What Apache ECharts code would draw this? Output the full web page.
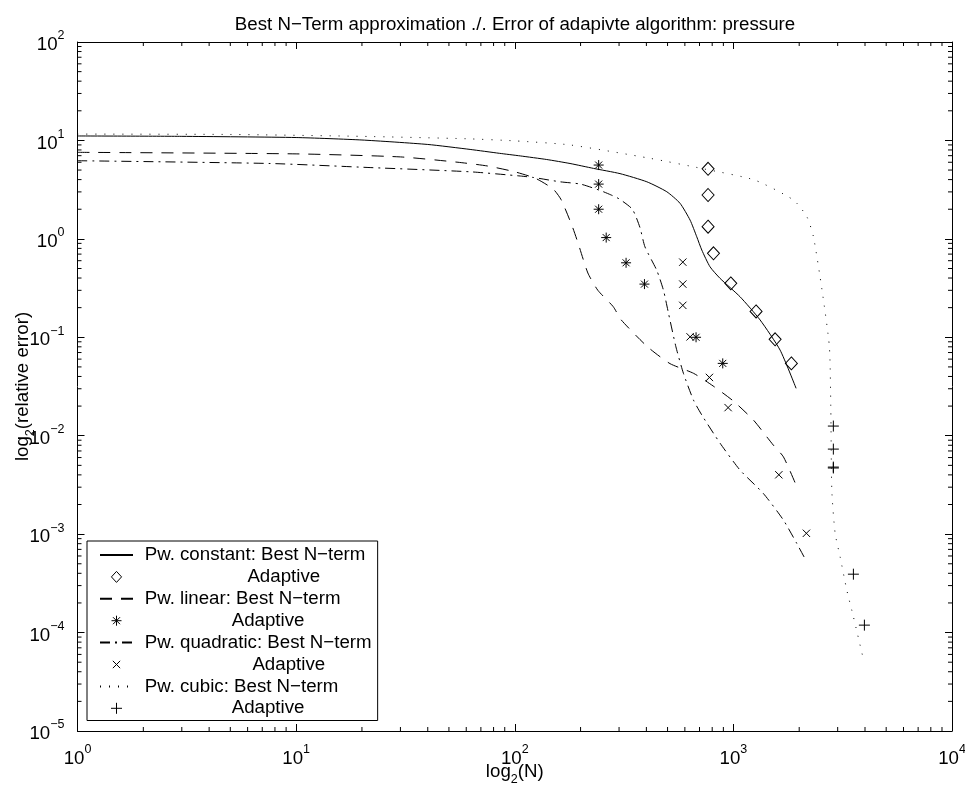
<!DOCTYPE html>
<html>
<head>
<meta charset="utf-8">
<title>Best N-Term approximation</title>
<script src="https://cdn.jsdelivr.net/npm/echarts@6/dist/echarts.min.js"></script>
<style>
  html, body { margin: 0; padding: 0; background: #fff; }
  #chart { width: 965px; height: 788px; }
</style>
</head>
<body>
<div id="chart"></div>
<script>
// Pw. constant: best N-term
const constN   = [1, 3, 10, 20, 40, 62.5, 85, 106, 140, 179, 229, 303, 402, 496, 570, 634, 680, 717, 782, 869, 1073, 1325, 1636, 1936];
const constErr = [11.1, 11.0, 10.7, 10.1, 9.1, 8.1, 7.4, 6.96, 6.4, 5.83, 5.2, 4.6, 3.8, 3.01, 2.30, 1.55, 1.05, 0.77, 0.52, 0.397, 0.258, 0.15, 0.0741, 0.0303];
// Pw. constant: adaptive
const constAdN   = [766, 766, 766, 811, 973, 1270, 1552, 1842];
const constAdErr = [5.15, 2.79, 1.33, 0.713, 0.353, 0.183, 0.0953, 0.0543];

// Pw. linear: best N-term
const linN   = [1, 10, 30, 55, 75, 100, 125, 150, 163, 183, 195, 216, 240, 282, 307, 405, 513, 658, 808, 1000, 1236, 1424, 1525, 1694, 1930];
const linErr = [7.57, 7.3, 6.8, 6.0, 5.5, 4.8, 4.1, 3.2, 2.5, 1.35, 0.9, 0.45, 0.30, 0.205, 0.15, 0.08, 0.054, 0.043, 0.032, 0.0225, 0.0144, 0.0097, 0.0080, 0.0061, 0.0032];
// Pw. linear: adaptive
const linAdN   = [242, 242, 242, 262, 323, 392, 675, 894];
const linAdErr = [5.62, 3.6, 2.0, 1.03, 0.571, 0.347, 0.100, 0.0543];

// Pw. quadratic: best N-term
const quadN   = [1, 7.6, 21.8, 62.5, 106, 122, 161, 200, 246, 275, 300, 345, 374, 394, 446, 479, 505, 546, 591, 657, 720, 869, 1073, 1371, 1694, 1950, 2144];
const quadErr = [6.22, 5.83, 5.3, 4.8, 4.35, 4.2, 3.8, 3.6, 3.1, 2.8, 2.55, 2.0, 1.3, 0.83, 0.48, 0.30, 0.175, 0.080, 0.043, 0.023, 0.016, 0.0084, 0.00447, 0.00259, 0.00139, 0.000804, 0.000545];
// Pw. quadratic: adaptive
const quadAdN   = [587, 587, 587, 634, 777, 946, 1614, 2158];
const quadAdErr = [0.58, 0.347, 0.211, 0.101, 0.0391, 0.0193, 0.00401, 0.00102];

// Pw. cubic: best N-term
const cubN   = [1, 5, 20, 60, 100, 179, 416, 729, 1250, 1883, 2168, 2324, 2545, 2749, 2790, 2820, 2920, 3078, 3302, 3540, 3910];
const cubErr = [11.6, 11.5, 11.0, 10.4, 9.9, 9.0, 6.58, 5.15, 3.96, 2.48, 1.68, 1.05, 0.30, 0.080, 0.0197, 0.0028, 0.00102, 0.000588, 0.00027, 0.000145, 0.0000566];
// Pw. cubic: adaptive
const cubAdN   = [2866, 2866, 2866, 2866, 3540, 3975];
const cubAdErr = [0.01253, 0.00731, 0.0048, 0.0047, 0.000392, 0.000119];

// axes
const X_MIN = 1, X_MAX = 10000;
const Y_MIN = 1e-5, Y_MAX = 100;
const mantissas = [2, 3, 4, 5, 6, 7, 8, 9];
const xDecades = [1, 10, 100, 1000];
const yDecades = [1e-5, 1e-4, 1e-3, 1e-2, 1e-1, 1, 10];

const legendNames = ['const', 'constAd', 'lin', 'linAd', 'quad', 'quadAd', 'cub', 'cubAd'];
const legendLabels = {
  const:  '{n|Pw. constant: Best N\u2212term}',
  constAd: '{a1|Adaptive}',
  lin:    '{n|Pw. linear: Best N\u2212term}',
  linAd:  '{a2|Adaptive}',
  quad:   '{n|Pw. quadratic: Best N\u2212term}',
  quadAd: '{a3|Adaptive}',
  cub:    '{n|Pw. cubic: Best N\u2212term}',
  cubAd:  '{a2|Adaptive}'
};

const FONT = '"Liberation Sans", Arial, Helvetica, sans-serif';
const FS = 18.7;

const DIAMOND = 'path://M6,0L12,6.5L6,13L0,6.5Z';
const STAR = 'path://M0,0M11,11M0.5,5.5L10.5,5.5M5.5,0.5L5.5,10.5M2,2L9,9M2,9L9,2';
const CROSS = 'path://M0,0M12,12M2,2L10,10M2,10L10,2';
const PLUS = 'path://M0,5L10,5M5,0L5,10';

function pairs(xs, ys) {
  return xs.map((x, i) => [x, ys[i]]);
}

function powLabel(v) {
  const e = Math.round(Math.log10(v));
  return '{b|10}{s|' + (e < 0 ? '\u2212' + (-e) : e) + '}';
}

const powRich = {
  b: { fontSize: FS, fontFamily: FONT, color: '#000', verticalAlign: 'bottom', padding: [6, 0, 0, 0] },
  s: { fontSize: 12.5, fontFamily: FONT, color: '#000', verticalAlign: 'top' }
};

const subRich = {
  m: { fontSize: FS, fontFamily: FONT, color: '#000', verticalAlign: 'top' },
  sub: { fontSize: 12.5, fontFamily: FONT, color: '#000', verticalAlign: 'top', padding: [11, 0, 0, 0] }
};

function logAxis(min, max, pos, showLabel) {
  return {
    type: 'log',
    logBase: 10,
    min: min,
    max: max,
    interval: 1,
    position: pos,
    axisLine: { show: true, onZero: false, lineStyle: { color: '#000', width: 1 } },
    axisTick: { show: true, inside: true, length: 7, lineStyle: { color: '#000', width: 1 } },
    minorTick: { show: false },
    splitLine: { show: false },
    axisLabel: {
      show: showLabel,
      margin: 12,
      formatter: powLabel,
      rich: powRich
    }
  };
}

const xBottom = logAxis(X_MIN, X_MAX, 'bottom', true);
xBottom.name = '{m|log}{sub|2}{m|(N)}';
xBottom.nameLocation = 'middle';
xBottom.nameGap = 31;
xBottom.nameMoveOverlap = false;
xBottom.nameTextStyle = { rich: subRich };
const xTop = logAxis(X_MIN, X_MAX, 'top', false);

const yLeft = logAxis(Y_MIN, Y_MAX, 'left', true);
yLeft.axisLabel.margin = 13;
yLeft.name = '{m|log}{sub|2}{m|(relative error)}';
yLeft.nameLocation = 'middle';
yLeft.nameGap = 40;
yLeft.nameMoveOverlap = false;
yLeft.nameTextStyle = { rich: subRich };
const yRight = logAxis(Y_MIN, Y_MAX, 'right', false);

// minor ticks at 2..9 x 10^k, drawn inward on all four sides
const xMinor = xDecades.flatMap(d => mantissas.map(m => m * d));
const yMinor = yDecades.flatMap(d => mantissas.map(m => m * d));

function tickLine(x1, y1, x2, y2) {
  return { type: 'line', shape: { x1: x1, y1: y1, x2: x2, y2: y2 }, style: { stroke: '#000', lineWidth: 1 } };
}

function xMinorTick(params, api) {
  const b = api.coord([api.value(0), Y_MIN]);
  const t = api.coord([api.value(0), Y_MAX]);
  return { type: 'group', children: [tickLine(b[0], b[1], b[0], b[1] - 4), tickLine(t[0], t[1], t[0], t[1] + 4)] };
}

function yMinorTick(params, api) {
  const l = api.coord([X_MIN, api.value(1)]);
  const r = api.coord([X_MAX, api.value(1)]);
  return { type: 'group', children: [tickLine(l[0], l[1], l[0] + 4, l[1]), tickLine(r[0], r[1], r[0] - 4, r[1])] };
}

function curve(name, xs, ys, dash) {
  return {
    name: name,
    type: 'line',
    data: pairs(xs, ys),
    symbol: 'none',
    smooth: 0.2,
    lineStyle: { color: '#000', width: 1, type: dash },
    // no dot on the legend sample
    itemStyle: { color: 'rgba(0,0,0,0)', borderWidth: 0 },
    z: 3
  };
}

function marks(name, xs, ys, symbol, size) {
  return {
    name: name,
    type: 'scatter',
    data: pairs(xs, ys),
    symbol: symbol,
    symbolSize: size,
    itemStyle: { color: 'none', borderColor: '#000', borderWidth: 1, opacity: 1 },
    z: 4
  };
}

const chart = echarts.init(document.getElementById('chart'), null, { renderer: 'canvas' });

chart.setOption({
  animation: false,
  backgroundColor: '#fff',
  title: {
    text: 'Best N\u2212Term approximation ./. Error of adapivte algorithm: pressure',
    left: 515,
    top: 15,
    padding: 0,
    textAlign: 'center',
    textStyle: { fontSize: FS, fontWeight: 'normal', fontFamily: FONT, color: '#000' }
  },
  grid: { left: 77.5, right: 13, top: 42, bottom: 57, outerBoundsMode: 'none' },
  xAxis: [xBottom, xTop],
  yAxis: [yLeft, yRight],
  legend: {
    orient: 'vertical',
    left: 87,
    top: 541,
    padding: [4.5, 6, 2.7, 12],
    itemGap: 2.9,
    itemWidth: 33,
    itemHeight: 11,
    backgroundColor: '#fff',
    borderColor: '#000',
    borderWidth: 1,
    selectedMode: false,
    itemStyle: { borderWidth: 1 },
    data: legendNames,
    formatter: name => legendLabels[name],
    textStyle: {
      rich: {
        n:  { fontSize: FS, fontFamily: FONT, color: '#000', padding: [0, 0, 0, 6.7] },
        a1: { fontSize: FS, fontFamily: FONT, color: '#000', padding: [0, 0, 0, 109.4] },
        a2: { fontSize: FS, fontFamily: FONT, color: '#000', padding: [0, 0, 0, 93.7] },
        a3: { fontSize: FS, fontFamily: FONT, color: '#000', padding: [0, 0, 0, 114.4] }
      }
    }
  },
  series: [
    curve('const', constN, constErr, 'solid'),
    marks('constAd', constAdN, constAdErr, DIAMOND, [12, 13]),
    curve('lin', linN, linErr, [12, 9]),
    marks('linAd', linAdN, linAdErr, STAR, 11),
    curve('quad', quadN, quadErr, [10, 5, 2, 5]),
    marks('quadAd', quadAdN, quadAdErr, CROSS, 11),
    curve('cub', cubN, cubErr, [1, 8]),
    marks('cubAd', cubAdN, cubAdErr, PLUS, 11),
    {
      type: 'custom',
      silent: true,
      data: xMinor.map(v => [v, Y_MIN]),
      renderItem: xMinorTick,
      z: 2
    },
    {
      type: 'custom',
      silent: true,
      data: yMinor.map(v => [X_MIN, v]),
      renderItem: yMinorTick,
      z: 2
    }
  ]
});
</script>
</body>
</html>
